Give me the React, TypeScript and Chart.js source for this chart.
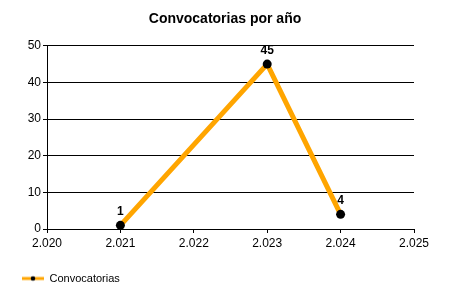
import React, { useEffect, useRef } from "react";
import { Chart, registerables } from "chart.js";

Chart.register(...registerables);

const titleText = "Convocatorias por año";
const seriesName = "Convocatorias";
const years = [2021, 2023, 2024];
const counts = [1, 45, 4];
const xMin = 2020;
const xMax = 2025;
const yMin = 0;
const yMax = 50;

const FONT = "'Liberation Sans', Arial, sans-serif";

function makeLegendIcon(): HTMLCanvasElement {
  const c = document.createElement("canvas");
  c.width = 34;
  c.height = 10;
  const ctx = c.getContext("2d")!;
  ctx.strokeStyle = "#FFA500";
  ctx.lineWidth = 3;
  ctx.beginPath();
  ctx.moveTo(12, 5);
  ctx.lineTo(34, 5);
  ctx.stroke();
  ctx.fillStyle = "#000";
  ctx.beginPath();
  ctx.arc(23, 5, 2.3, 0, Math.PI * 2);
  ctx.fill();
  return c;
}

const valueLabels = {
  id: "valueLabels",
  afterDatasetsDraw(chart: any) {
    const ctx = chart.ctx;
    const meta = chart.getDatasetMeta(0);
    ctx.save();
    ctx.font = `bold 12px ${FONT}`;
    ctx.fillStyle = "#000";
    ctx.textAlign = "center";
    ctx.textBaseline = "alphabetic";
    meta.data.forEach((pt: any, i: number) => {
      const v = chart.data.datasets[0].data[i].y;
      ctx.fillText(String(v), pt.x, pt.y - 10.5);
    });
    ctx.restore();
  },
};

export default function App() {
  const ref = useRef<HTMLCanvasElement>(null);
  useEffect(() => {
    document.body.style.margin = "0";
    const icon = makeLegendIcon();
    const chart = new Chart(ref.current!, {
      type: "line",
      data: {
        datasets: [
          {
            label: seriesName,
            data: years.map((x, i) => ({ x, y: counts[i] })),
            borderColor: "#FFA500",
            borderWidth: 5,
            pointRadius: 4.5,
            pointBackgroundColor: "#000",
            pointBorderColor: "#000",
            pointBorderWidth: 0,
            tension: 0,
          },
        ],
      },
      options: {
        animation: false,
        responsive: false,
        layout: { padding: { left: 0, right: 0, top: 0, bottom: 6 } },
        plugins: {
          title: {
            display: true,
            text: titleText,
            color: "#000",
            font: { family: FONT, size: 14, weight: "bold" },
            padding: { top: 11, bottom: 18 },
          },
          legend: {
            display: true,
            position: "bottom",
            align: "start",
            labels: {
              usePointStyle: true,
              pointStyle: icon as any,
              pointStyleWidth: 34,
              boxHeight: 10,
              padding: 10,
              color: "#000",
              font: { family: FONT, size: 11 },
            },
          },
          tooltip: { enabled: false },
        },
        scales: {
          x: {
            type: "linear",
            min: xMin,
            max: xMax,
            ticks: {
              stepSize: 1,
              color: "#000",
              font: { family: FONT, size: 12 },
              padding: 3.5,
              maxRotation: 0,
              callback: (v: any) => (Number(v) / 1000).toFixed(3),
            },
            grid: { drawOnChartArea: false, drawTicks: true, tickLength: 4, color: "#000" },
            border: { display: true, color: "#000", width: 1 },
            afterFit: (s: any) => {
              s.height = 34;
            },
          },
          y: {
            min: yMin,
            max: yMax,
            ticks: {
              stepSize: 10,
              color: "#000",
              font: { family: FONT, size: 12 },
              padding: 2,
            },
            grid: { drawOnChartArea: true, drawTicks: true, tickLength: 4, color: "#000" },
            border: { display: true, color: "#000", width: 1 },
            afterFit: (s: any) => {
              s.width = 47;
            },
          },
          yRight: {
            position: "right",
            min: yMin,
            max: yMax,
            display: true,
            ticks: { display: false },
            grid: { display: false, drawTicks: false },
            border: { display: false },
            afterFit: (s: any) => {
              s.width = 36;
            },
          },
        },
      },
      plugins: [valueLabels],
    });
    return () => chart.destroy();
  }, []);
  return (
    <div style={{ width: 450, height: 300 }}>
      <canvas ref={ref} width={450} height={300} />
    </div>
  );
}
